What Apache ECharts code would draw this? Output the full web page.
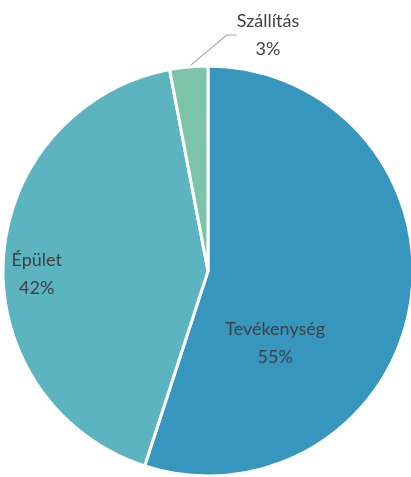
<!DOCTYPE html>
<html>
<head>
<meta charset="utf-8">
<script src="https://cdn.jsdelivr.net/npm/echarts@6/dist/echarts.min.js"></script>
<style>
  html, body { margin: 0; padding: 0; background: #fff; }
  #chart { width: 411px; height: 477px; }
</style>
</head>
<body>
<div id="chart"></div>
<script>
const categories = ['Tevékenység', 'Épület', 'Szállítás']
const values = [55, 42, 3]
const colors = ['#3796BE', '#5BB4C0', '#7BC4AA']

// label tweaks per slice (Excel-like placement)
const labelOffsets = [[-37, 56], [-66, 10], [0, 0]]

const chart = echarts.init(document.getElementById('chart'))

const data = categories.map((name, i) => {
  const item = { name, value: values[i], itemStyle: { color: colors[i] } }
  if (i === 2) {
    item.label = { position: 'outside' }
    item.labelLine = { show: true, length: 12, length2: 10 }
  } else {
    item.label = { position: 'inside', offset: labelOffsets[i] }
    item.labelLine = { show: false }
  }
  return item
})

chart.setOption({
  animation: false,
  series: [
    {
      type: 'pie',
      center: [208, 271],
      radius: 205,
      startAngle: 90,
      clockwise: true,
      data,
      itemStyle: { borderColor: '#fff', borderWidth: 3 },
      label: {
        show: true,
        formatter: (p) => p.name + '\n' + Math.round(p.percent) + '%',
        color: '#404040',
        fontFamily: 'Lato, "Open Sans", sans-serif',
        fontSize: 18,
        lineHeight: 28,
        align: 'center'
      },
      labelLine: { lineStyle: { color: '#a6a6a6', width: 1.2 } },
      labelLayout: (params) => {
        if (params.dataIndex !== 2) return {}
        return { x: 268, y: 35, align: 'center', verticalAlign: 'middle' }
      }
    }
  ]
})
</script>
</body>
</html>
